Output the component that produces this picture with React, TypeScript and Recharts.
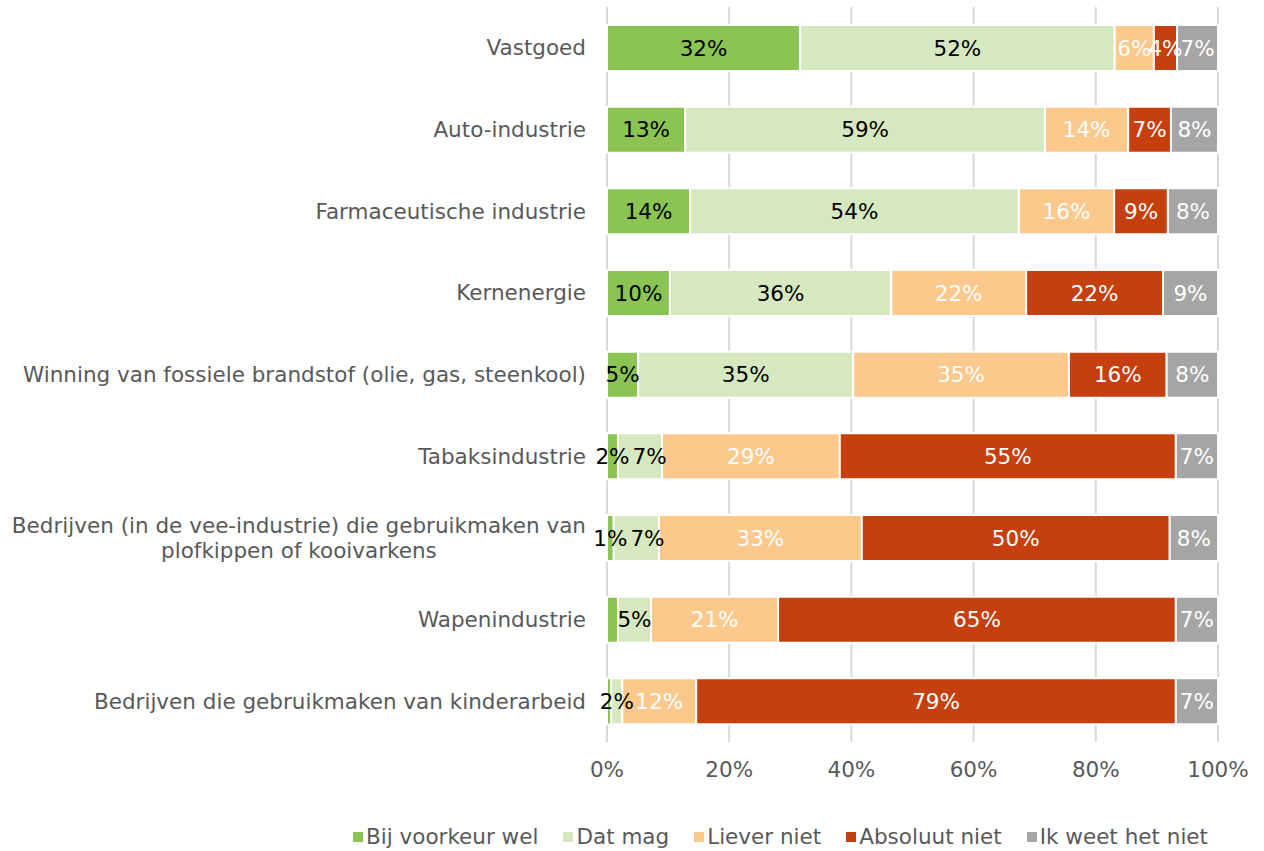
import { BarChart, Bar, XAxis, YAxis, CartesianGrid, LabelList, Legend } from 'recharts';

const categories = [
  'Vastgoed',
  'Auto-industrie',
  'Farmaceutische industrie',
  'Kernenergie',
  'Winning van fossiele brandstof (olie, gas, steenkool)',
  'Tabaksindustrie',
  'Bedrijven (in de vee-industrie) die gebruikmaken van\nplofkippen of kooivarkens',
  'Wapenindustrie',
  'Bedrijven die gebruikmaken van kinderarbeid',
];

const bijVoorkeurWel = [31.6, 12.8, 13.6, 10.3, 5.1, 1.8, 1.1, 1.8, 0.7];
const datMag = [51.5, 58.9, 53.8, 36.2, 35.2, 7.2, 7.4, 5.4, 1.8];
const lieverNiet = [6.4, 13.6, 15.6, 22.1, 35.3, 29.1, 33.2, 20.8, 12.1];
const absoluutNiet = [3.8, 7.0, 8.8, 22.4, 16.0, 55.0, 50.4, 65.1, 78.5];
const weetNiet = [6.7, 7.7, 8.2, 9.0, 8.4, 6.9, 7.9, 6.9, 6.9];

// green labels that are not shown in the original
const showWelLabel = [true, true, true, true, true, true, true, false, false];

const xTicks = [0, 20, 40, 60, 80, 100];

const series = [
  { key: 'wel', name: 'Bij voorkeur wel', color: '#8BC453', text: '#000' },
  { key: 'mag', name: 'Dat mag', color: '#D5E8C0', text: '#000' },
  { key: 'liever', name: 'Liever niet', color: '#FDC88C', text: '#fff' },
  { key: 'absoluut', name: 'Absoluut niet', color: '#C63F0E', text: '#fff' },
  { key: 'weet', name: 'Ik weet het niet', color: '#A5A5A5', text: '#fff' },
];

const data = categories.map((c, i) => ({
  category: c,
  wel: bijVoorkeurWel[i],
  mag: datMag[i],
  liever: lieverNiet[i],
  absoluut: absoluutNiet[i],
  weet: weetNiet[i],
  showWel: showWelLabel[i],
}));

const FONT = '"DejaVu Sans", Verdana, sans-serif';
const FS = 21.5;
const GREY = '#595959';

let ctx: CanvasRenderingContext2D | null = null;
function measure(s: string) {
  if (!ctx) {
    ctx = document.createElement('canvas').getContext('2d');
  }
  if (!ctx) return s.length * 12;
  ctx.font = `${FS}px ${FONT}`;
  return ctx.measureText(s).width;
}

const pct = (v: number) => `${Math.round(v)}%`;

function CategoryTick(props: any) {
  const { x, y, payload } = props;
  const lines = String(payload.value).split('\n');
  if (lines.length === 1) {
    return (
      <text x={x} y={y} dy="0.35em" textAnchor="end" fill={GREY} fontSize={FS} fontFamily={FONT}>
        {lines[0]}
      </text>
    );
  }
  const w = Math.max(...lines.map(measure));
  const cx = x - w / 2;
  const lh = 25;
  const top = y - ((lines.length - 1) * lh) / 2;
  return (
    <text textAnchor="middle" fill={GREY} fontSize={FS} fontFamily={FONT}>
      {lines.map((l, i) => (
        <tspan key={i} x={cx} y={top + i * lh} dy="0.35em">
          {l}
        </tspan>
      ))}
    </text>
  );
}

function LegendContent() {
  return (
    <div style={{ display: 'flex', gap: 25, fontFamily: FONT, fontSize: FS, color: GREY, whiteSpace: 'nowrap' }}>
      {series.map((s) => (
        <div key={s.key} style={{ display: 'flex', alignItems: 'center', gap: 3 }}>
          <span style={{ width: 10, height: 10, background: s.color, display: 'inline-block' }} />
          <span>{s.name}</span>
        </div>
      ))}
    </div>
  );
}

function makeLabel(key: string, color: string) {
  return (p: any) => {
    const row = data[p.index];
    if (!row) return null;
    if (key === 'wel' && !row.showWel) return null;
    const text = pct(p.value);
    let cx = p.x + p.width / 2;
    const cy = p.y + p.height / 2;
    // keep the "Dat mag" label clear of a narrow green label beside it
    if (key === 'mag' && row.showWel && p.value > 0) {
      const unit = p.width / p.value;
      const welW = row.wel * unit;
      const welCx = p.x - welW / 2;
      const minLeft = welCx + measure(pct(row.wel)) / 2 + 3;
      cx = Math.max(cx, minLeft + measure(text) / 2);
    }
    return (
      <text x={cx} y={cy} dy="0.35em" textAnchor="middle" fill={color} fontSize={FS} fontFamily={FONT}>
        {text}
      </text>
    );
  };
}

export default function App() {
  return (
    <div style={{ position: 'absolute', left: 0, top: 0, background: '#fff' }}>
      <BarChart
        width={1264}
        height={851}
        data={data}
        layout="vertical"
        margin={{ top: 7, right: 46, bottom: 19, left: 0 }}
        barSize={46}
      >
        <CartesianGrid horizontal={false} stroke="#D9D9D9" strokeWidth={2} />
        <XAxis
          type="number"
          domain={[0, 100]}
          ticks={xTicks}
          tickFormatter={(v) => `${v}%`}
          axisLine={false}
          tickLine={false}
          tickSize={0}
          tickMargin={20}
          height={50}
          interval={0}
          tick={{ fill: GREY, fontSize: FS, fontFamily: FONT }}
        />
        <YAxis
          type="category"
          dataKey="category"
          width={607}
          axisLine={false}
          tickLine={false}
          tickSize={0}
          tickMargin={21}
          interval={0}
          tick={<CategoryTick />}
        />
        <Legend
          verticalAlign="bottom"
          align="left"
          height={40}
          wrapperStyle={{ left: 353, top: 824, bottom: 'auto', width: 'auto' }}
          content={<LegendContent />}
        />
        {series.map((s) => (
          <Bar
            key={s.key}
            dataKey={s.key}
            name={s.name}
            stackId="a"
            fill={s.color}
            stroke="#fff"
            strokeWidth={2}
            isAnimationActive={false}
          >
            <LabelList dataKey={s.key} position="center" content={makeLabel(s.key, s.text)} />
          </Bar>
        ))}
      </BarChart>
    </div>
  );
}
